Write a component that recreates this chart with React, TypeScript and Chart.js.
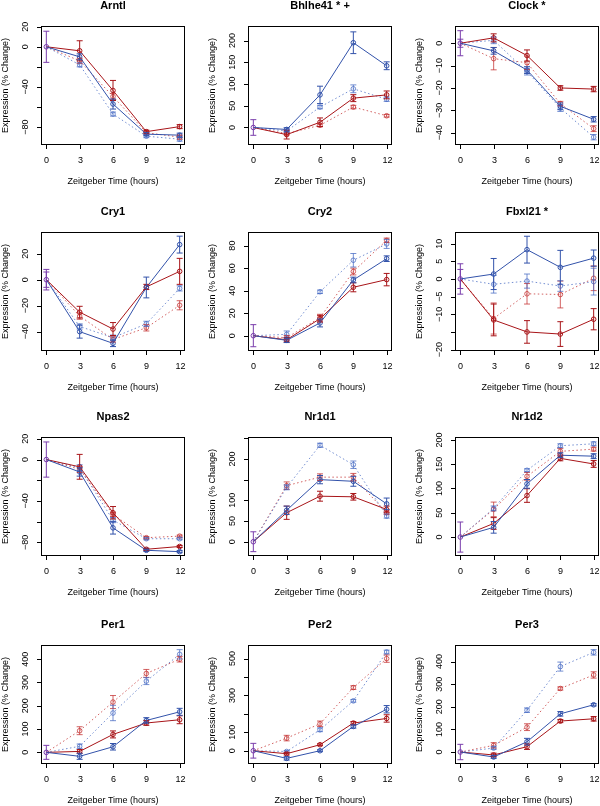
import React, { useEffect, useRef } from "react";
import { Chart, registerables } from "chart.js";
Chart.register(...registerables);

// ---------- data ----------
const hours = [0, 3, 6, 9, 12];
const titles = ["Arntl", "Bhlhe41 * +", "Clock *", "Cry1", "Cry2", "Fbxl21 *", "Npas2", "Nr1d1", "Nr1d2", "Per1", "Per2", "Per3"];
const xTitle = "Zeitgeber Time (hours)";
const yTitle = "Expression (% Change)";

const blueSolid = [
  [0, -10, -57, -87, -88],
  [0, -4.5, 75, 195, 142],
  [0, -3.4, -12, -28.2, -34],
  [0, -40, -49, -6, 27],
  [0, -4.1, 11.3, 49.5, 68.4],
  [0, 1.4, 8.3, 3.3, 5.9],
  [0, -12, -66, -87.7, -89],
  [0, 76, 150, 146, 91.5],
  [0, 20, 109.5, 168.5, 166.5],
  [0, -17, 24, 137, 174],
  [0, -41.5, 0, 131.5, 225],
  [0, -22, 45.5, 169, 209],
];
const blueSolidErr = [
  [0, 3, 5, 1.5, 2],
  [0, 4, 20, 25, 9],
  [0, 1.5, 1.5, 1.5, 1.2],
  [0, 5, 2.5, 8, 6.5],
  [0, 2, 3.5, 2.5, 2.5],
  [0, 4.4, 3.8, 4.8, 2.3],
  [0, 4, 6, 1, 1],
  [0, 10, 10, 12, 14],
  [0, 12, 9, 5, 5],
  [0, 13, 14, 12, 15],
  [0, 9, 5, 9, 20],
  [0, 6, 15, 10, 5],
];
const redSolid = [
  [0, -4, -43.5, -84.5, -79.5],
  [0, -16.5, 12, 67.5, 75],
  [0, 2.4, -5.5, -20, -20.5],
  [0, -25, -38, -5.6, 6.4],
  [0, -3.6, 15.1, 43, 49.8],
  [0, -11.6, -15, -15.6, -11.4],
  [0, -7, -51.4, -86.7, -84],
  [0, 70, 110, 108.5, 78],
  [0, 28, 85.5, 162, 150.5],
  [0, 4, 77, 126, 140],
  [0, -16, 32.5, 150, 175],
  [0, -13, 23.5, 137, 147],
];
const redSolidErr = [
  [0, 10, 10, 1.5, 2],
  [0, 10, 10, 8, 9],
  [0, 1.8, 2.5, 1, 1.2],
  [0, 4.5, 5, 2, 10],
  [0, 2, 3, 4, 5.5],
  [0, 4.5, 3.2, 3.5, 3],
  [0, 12, 6, 1, 1],
  [0, 16, 12, 8, 8],
  [0, 12, 14, 5, 7],
  [0, 8, 15, 10, 17],
  [0, 7, 5, 8, 20],
  [0, 8, 12, 7, 10],
];
const blueDotted = [
  [0, -18, -67, -89, -92],
  [0, -8, 47, 89, 65],
  [0, 1.3, -12.7, -29, -42],
  [0, -36, -44.6, -34, -6.7],
  [0, 1.2, 39, 67, 81.5],
  [0, -1.5, -0.6, -2, -0.75],
  [0, -8, -58.5, -76.5, -76.5],
  [0, 131.5, 233, 186, 62],
  [0, 59, 137.5, 188, 192],
  [0, 26, 169, 306, 421],
  [0, -4, 113.5, 270.5, 535.5],
  [0, 17.5, 185, 378, 441],
];
const blueDottedErr = [
  [0, 2, 2, 1.5, 2],
  [0, 3, 4, 9, 5],
  [0, 1.5, 1.5, 1.5, 1.2],
  [0, 2, 2, 2, 2],
  [0, 3, 1.5, 6, 4],
  [0, 2.5, 2, 1.5, 3.8],
  [0, 3, 2.5, 1, 1],
  [0, 6, 5, 9, 5],
  [0, 5, 3, 4, 4],
  [0, 10, 33, 15, 20],
  [0, 5, 10, 7, 10],
  [0, 6, 10, 20, 12],
];
const redDotted = [
  [0, -14, -49.5, -85.5, -90],
  [0, -14, 5, 47, 27],
  [0, -6.9, -8.7, -27, -38.2],
  [0, -28, -46, -37, -19.7],
  [0, -1.8, 16, 57, 84.7],
  [0, -11.2, -4.2, -4.4, 0.2],
  [0, -9.5, -53, -75.5, -74],
  [0, 135.5, 156, 156, 70],
  [0, 57, 125, 176.5, 181],
  [0, 93, 216, 339, 400],
  [0, 68.5, 146, 342.5, 499.5],
  [0, 29.5, 110, 281, 341],
];
const redDottedErr = [
  [0, 2.5, 3, 1.5, 2],
  [0, 3, 3, 4, 3],
  [0, 5, 3, 1, 1.3],
  [0, 2.5, 2, 2.5, 3.5],
  [0, 2, 3, 3, 2],
  [0, 4.4, 2.9, 3.8, 3.5],
  [0, 3, 2, 1, 1],
  [0, 9, 8, 9, 4],
  [0, 15, 8, 6, 4],
  [0, 17, 28, 17, 12],
  [0, 15, 15, 10, 20],
  [0, 12, 15, 7, 14],
];
// error bars of the ZT0 reference point (purple)
const zeroErr = [
  [15.5], [18], [5.6, 1.8], [7.9, 5.9], [9.8], [4.3, 2.7],
  [17], [24], [31], [30], [40], [34],
];
const yMin = [-97.8, -40.3, -45.5, -54.9, -13.6, -20.4, -93.2, -34.5, -39, -50, -72, -53];
const yMax = [20.7, 233.5, 7.7, 36.7, 92.1, 13.3, 21.8, 253, 206, 461, 573.5, 473.5];
const yTicks = [
  [-80, -60, -40, -20, 0, 20],
  [0, 50, 100, 150, 200],
  [-40, -30, -20, -10, 0],
  [-40, -20, 0, 20],
  [0, 20, 40, 60, 80],
  [-20, -15, -10, -5, 0, 5, 10],
  [-80, -60, -40, -20, 0, 20],
  [0, 50, 100, 150, 200, 250],
  [0, 50, 100, 150, 200],
  [0, 100, 200, 300, 400],
  [0, 100, 200, 300, 400, 500],
  [0, 100, 200, 300, 400],
];
const yTickLabels = [
  [-80, -40, 0, 20],
  [0, 50, 100, 150, 200],
  [-40, -30, -20, -10, 0],
  [-40, -20, 0, 20],
  [0, 20, 40, 60, 80],
  [-20, -10, -5, 0, 5, 10],
  [-80, -40, 0, 20],
  [0, 50, 100, 200],
  [0, 50, 100, 150, 200],
  [0, 100, 200, 300, 400],
  [0, 100, 300, 500],
  [0, 100, 200, 300, 400],
];
const xTicks = [0, 3, 6, 9, 12];

// ---------- styling / layout ----------
const BLUE = "rgb(50, 82, 170)";
const RED = "rgb(168, 20, 24)";
const BLUE_DOT = "rgba(70, 105, 195, 0.75)";
const RED_DOT = "rgba(195, 45, 45, 0.75)";
const PURPLE = "rgb(122, 62, 172)";
const FONT = "'Liberation Sans', Arial, Helvetica, sans-serif";

const COL_BOX = [41, 248, 455];
const ROW_BOX = [26, 232, 437, 645];
const BOX_W = 144;
const BOX_H = 119;
const PAD_L = 48, PAD_T = 30, CW = 207, CH = 206;
const PAD_R = CW - PAD_L - BOX_W;
const PAD_B = CH - PAD_T - BOX_H;
const CAP = 3;

const seriesDefs = [
  { vals: blueSolid, errs: blueSolidErr, color: BLUE, dash: [] as number[] },
  { vals: redSolid, errs: redSolidErr, color: RED, dash: [] as number[] },
  { vals: blueDotted, errs: blueDottedErr, color: BLUE_DOT, dash: [1.5, 2.5] },
  { vals: redDotted, errs: redDottedErr, color: RED_DOT, dash: [1.5, 2.5] },
];

function makePlugin(p: number) {
  return {
    id: "rstyle" + p,
    afterDatasetsDraw(chart: any) {
      const ctx = chart.ctx;
      const xs = chart.scales.x;
      const ys = chart.scales.y;
      ctx.save();
      ctx.lineWidth = 1;
      ctx.setLineDash([]);
      const bar = (h: number, v: number, e: number, color: string) => {
        const x = xs.getPixelForValue(h);
        const y1 = ys.getPixelForValue(v - e);
        const y2 = ys.getPixelForValue(v + e);
        ctx.strokeStyle = color;
        ctx.beginPath();
        ctx.moveTo(x, y1);
        ctx.lineTo(x, y2);
        ctx.moveTo(x - CAP, y1);
        ctx.lineTo(x + CAP, y1);
        ctx.moveTo(x - CAP, y2);
        ctx.lineTo(x + CAP, y2);
        ctx.stroke();
      };
      seriesDefs.slice().reverse().forEach((s) => {
        hours.forEach((h, i) => {
          const e = s.errs[p][i];
          if (e) bar(h, s.vals[p][i], e, s.color);
        });
      });
      zeroErr[p].forEach((e) => bar(0, 0, e, PURPLE));
      ctx.restore();
    },
    afterDraw(chart: any) {
      const ctx = chart.ctx;
      const xs = chart.scales.x;
      const ys = chart.scales.y;
      const a = chart.chartArea;
      ctx.save();
      ctx.setLineDash([]);
      ctx.strokeStyle = "#000";
      ctx.fillStyle = "#000";
      ctx.lineWidth = 1;
      // box
      ctx.strokeRect(a.left + 0.5, a.top + 0.5, a.right - a.left - 1, a.bottom - a.top - 1);
      // x ticks
      ctx.font = "9px " + FONT;
      ctx.textAlign = "center";
      ctx.textBaseline = "middle";
      xTicks.forEach((t) => {
        const x = Math.round(xs.getPixelForValue(t)) + 0.5;
        ctx.beginPath();
        ctx.moveTo(x, a.bottom);
        ctx.lineTo(x, a.bottom + 4);
        ctx.stroke();
        ctx.fillText(String(t), x, a.bottom + 15.5);
      });
      // y ticks
      yTicks[p].forEach((t) => {
        const y = Math.round(ys.getPixelForValue(t)) + 0.5;
        ctx.beginPath();
        ctx.moveTo(a.left - 4, y);
        ctx.lineTo(a.left, y);
        ctx.stroke();
      });
      yTickLabels[p].forEach((t) => {
        const y = ys.getPixelForValue(t);
        ctx.save();
        ctx.translate(a.left - 15, y);
        ctx.rotate(-Math.PI / 2);
        ctx.fillText(t < 0 ? "\u2212" + Math.abs(t) : String(t), 0, 0);
        ctx.restore();
      });
      // axis titles
      const cx = (a.left + a.right) / 2;
      const cy = (a.top + a.bottom) / 2;
      ctx.fillText(xTitle, cx, a.bottom + 37);
      ctx.save();
      ctx.translate(a.left - 35.5, cy);
      ctx.rotate(-Math.PI / 2);
      ctx.fillText(yTitle, 0, 0);
      ctx.restore();
      // main title
      ctx.font = "bold 11px " + FONT;
      ctx.fillText(titles[p], cx, a.top - 20.5);
      ctx.restore();
    },
  };
}

function makeConfig(p: number): any {
  const datasets: any[] = seriesDefs.map((s) => ({
    data: hours.map((h, i) => ({ x: h, y: s.vals[p][i] })),
    borderColor: s.color,
    borderWidth: 1,
    borderDash: s.dash,
    pointRadius: hours.map((h) => (h === 0 ? 0 : 2.3)),
    pointBorderColor: s.color,
    pointBackgroundColor: "rgba(0,0,0,0)",
    pointBorderWidth: 1,
    fill: false,
    tension: 0,
  }));
  datasets.push({
    data: [{ x: 0, y: 0 }],
    borderColor: PURPLE,
    showLine: false,
    pointRadius: 2.3,
    pointBorderColor: PURPLE,
    pointBackgroundColor: "rgba(0,0,0,0)",
    pointBorderWidth: 1,
  });
  return {
    type: "line",
    data: { datasets },
    options: {
      responsive: false,
      animation: false,
      devicePixelRatio: 1,
      layout: { padding: { left: PAD_L, top: PAD_T, right: PAD_R, bottom: PAD_B } },
      plugins: { legend: { display: false }, tooltip: { enabled: false }, title: { display: false } },
      scales: {
        x: { type: "linear", min: -0.48, max: 12.48, display: false },
        y: { type: "linear", min: yMin[p], max: yMax[p], display: false },
      },
      events: [],
    },
    plugins: [makePlugin(p)],
  };
}

function Panel({ p }: { p: number }) {
  const ref = useRef<HTMLCanvasElement>(null);
  useEffect(() => {
    const chart = new Chart(ref.current as HTMLCanvasElement, makeConfig(p));
    return () => chart.destroy();
  }, [p]);
  const col = p % 3;
  const row = Math.floor(p / 3);
  return (
    <canvas
      ref={ref}
      width={CW}
      height={CH}
      style={{ position: "absolute", left: COL_BOX[col] - PAD_L, top: ROW_BOX[row] - PAD_T, width: CW, height: CH }}
    />
  );
}

export default function App() {
  return (
    <div style={{ position: "absolute", left: 0, top: 0, width: 600, height: 806, overflow: "hidden", background: "#fff" }}>
      {titles.map((_, p) => (
        <Panel key={p} p={p} />
      ))}
    </div>
  );
}
